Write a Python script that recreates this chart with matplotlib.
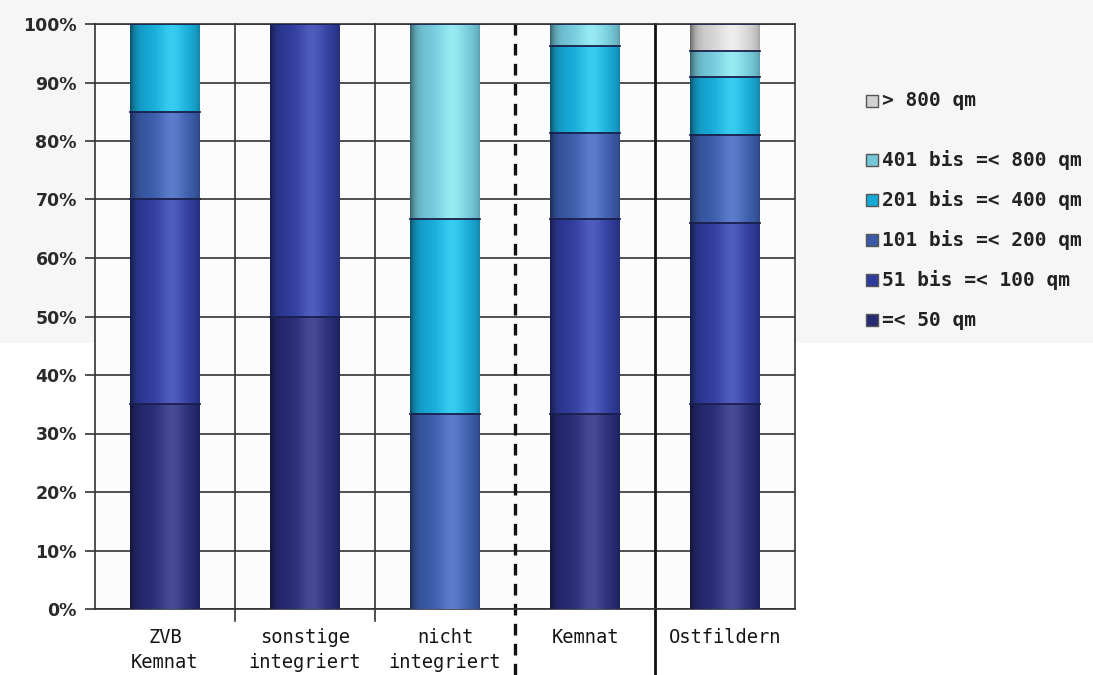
import numpy as np
import matplotlib
matplotlib.use("Agg")
import matplotlib.pyplot as plt
from matplotlib.colors import to_rgb
from matplotlib.patches import Rectangle

categories = ["ZVB\nKemnat", "sonstige\nintegriert", "nicht\nintegriert", "Kemnat", "Ostfildern"]
size_labels = ["=< 50 qm", "51 bis =< 100 qm", "101 bis =< 200 qm",
               "201 bis =< 400 qm", "401 bis =< 800 qm", "> 800 qm"]

# share in percent per size class, one list per class (bottom to top)
upto_50 = [35.0, 50.0, 0.0, 33.3, 35.0]
from_51 = [35.0, 50.0, 0.0, 33.3, 31.0]
from_101 = [15.0, 0.0, 33.3, 14.8, 15.0]
from_201 = [15.0, 0.0, 33.3, 14.8, 10.0]
from_401 = [0.0, 0.0, 33.4, 3.8, 4.3]
over_800 = [0.0, 0.0, 0.0, 0.0, 4.7]
series = [upto_50, from_51, from_101, from_201, from_401, over_800]

colors = ["#262a72", "#2e3b9a", "#3a5aa8", "#16a8d6", "#74c8da", "#d2d2d2"]


def shade(color, n=64):
    # cylinder look: dark left edge, soft highlight right of centre, darker right edge
    base = np.array(to_rgb(color))
    hl = 0.5 * np.clip(base * 1.3, 0, 1) + 0.5 * (base + (1 - base) * 0.25)
    t = np.linspace(0, 1, n)
    light = np.exp(-((t - 0.6) / 0.2) ** 2)
    dark = 0.5 * np.exp(-t / 0.08) + 0.2 * np.exp(-(1 - t) / 0.07)
    rgb = base[None, :] + (hl - base)[None, :] * light[:, None]
    rgb = rgb * (1 - dark[:, None])
    return np.clip(rgb, 0, 1)[None, :, :]


fig = plt.figure(figsize=(10.93, 6.75), dpi=100)
fig.patches.append(Rectangle((0, 1 - 343 / 675), 1, 343 / 675, transform=fig.transFigure,
                             facecolor="#f6f6f6", edgecolor="none", zorder=-10))
ax = fig.add_axes([95 / 1093, 1 - 609 / 675, 700 / 1093, 585 / 675])
ax.set_facecolor("#fcfcfc")

x = np.arange(len(categories))
bottom = np.zeros(len(categories))
for vals, col in zip(series, colors):
    vals = np.array(vals)
    bars = ax.bar(x, vals, width=0.5, bottom=bottom, color=col, zorder=3, linewidth=0)
    for b, v in zip(bars, vals):
        if v <= 0:
            continue
        x0, y0, w, h = b.get_x(), b.get_y(), b.get_width(), b.get_height()
        im = ax.imshow(shade(col), extent=[x0, x0 + w, y0, y0 + h], aspect="auto",
                       interpolation="bilinear", zorder=4)
        im.set_clip_path(b)
        ax.plot([x0, x0 + w], [y0 + h, y0 + h], color="#1a1f4a", lw=1.3, zorder=5)
    bottom += vals

ax.set_xlim(-0.5, len(categories) - 0.5)
ax.set_ylim(0, 100)

ax.set_yticks(np.arange(0, 101, 10))
ax.set_yticklabels([f"{v}%" for v in range(0, 101, 10)], fontsize=12.5,
                   fontweight="bold", color="#2a2a2a", family="DejaVu Sans")
ax.yaxis.grid(True, color="#333333", lw=1.2, zorder=1)
ax.tick_params(axis="y", length=7, width=1.2, color="#333333", pad=6)

ax.set_xticks(x)
ax.set_xticklabels(categories, fontsize=13.5, family="DejaVu Sans Mono",
                   color="#151515", linespacing=1.35)
ax.tick_params(axis="x", length=0, pad=14)

for s in ax.spines.values():
    s.set_color("#333333")
    s.set_linewidth(1.2)

# separators between categories
below = 66 / 585
for pos in x[:-1] + 0.5:
    if pos == 2.5:
        ax.axvline(pos, ymin=-below, ymax=1, color="#111111", lw=2.4,
                   dashes=(3.5, 2.5), clip_on=False, zorder=2)
    elif pos == 3.5:
        ax.axvline(pos, ymin=-below, ymax=1, color="#111111", lw=2.0,
                   clip_on=False, zorder=2)
    else:
        ax.axvline(pos, ymin=-12 / 585, ymax=1, color="#333333", lw=1.2,
                   clip_on=False, zorder=2)

# legend, top entry first
legend_y = [101, 160, 200, 240, 280, 320]
for label, col, yp in zip(size_labels[::-1], colors[::-1], legend_y):
    fy = 1 - yp / 675
    fig.patches.append(Rectangle((866 / 1093, fy - 6 / 675), 12 / 1093, 12 / 675,
                                 transform=fig.transFigure, facecolor=col,
                                 edgecolor="#555555", lw=1.0))
    fig.text(882 / 1093, fy, label, fontsize=14, family="DejaVu Sans Mono",
             fontweight="bold", color="#222222", va="center", ha="left")

fig.savefig("out.png", dpi=100)
